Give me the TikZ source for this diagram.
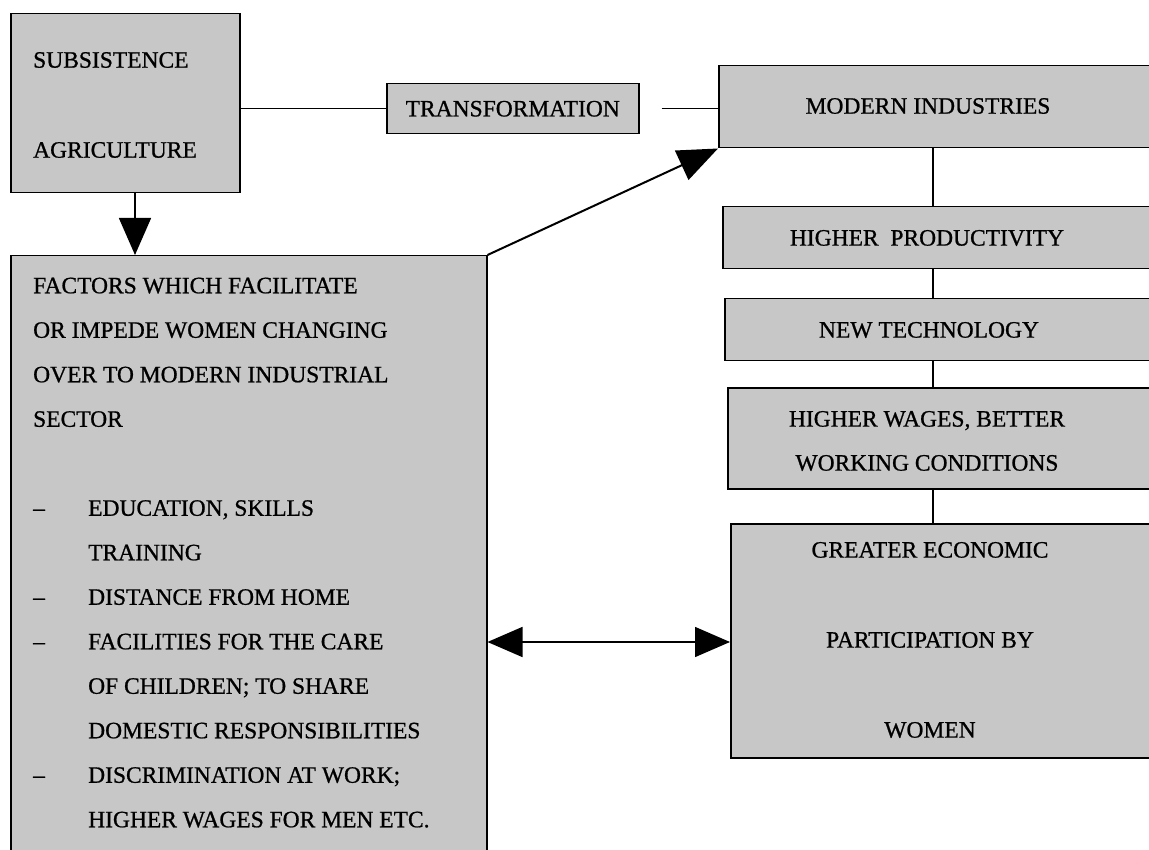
\documentclass[tikz,border=0pt]{standalone}
\usepackage{fontspec}
\setmainfont{Liberation Serif}[FakeBold=0.8]
\usetikzlibrary{arrows.meta}
\begin{document}
\begin{tikzpicture}[x=1pt,y=-1pt,
  box/.style={draw=black, line width=1.5pt, fill=black!22, inner sep=0pt, anchor=north west},
  txt/.style={inner sep=0pt, font=\fontsize{23.5}{28}\selectfont},
  link/.style={line width=1.5pt},
  bigtip/.style={-{Triangle[length=37pt,width=32pt]}}
]
\useasboundingbox (0,0) rectangle (1149,850);
\clip (0,0) rectangle (1149,850);

% boxes (the right-hand column runs off the page edge)
\node[box, minimum width=229, minimum height=179] (subs) at (10,13) {};
\node[box, minimum width=252, minimum height=50] (trans) at (386,83) {};
\node[box, minimum width=447, minimum height=82] (modern) at (718,65) {};
\node[box, minimum width=443, minimum height=62] (prod) at (722,206) {};
\node[box, minimum width=441, minimum height=62] (tech) at (724,298) {};
\node[box, minimum width=438, minimum height=101] (wages) at (727,387) {};
\node[box, minimum width=435, minimum height=234] (greater) at (730,523) {};
\node[box, minimum width=476, minimum height=615] (factors) at (10,255) {};

% texts
\node[txt, anchor=west, align=left, font=\fontsize{23.5}{90}\selectfont] (subsT) at (33,105)
  {SUBSISTENCE\\AGRICULTURE};
\node[txt] (transT) at (trans.center) {TRANSFORMATION};
\node[txt] (modernT) at (928,106) {MODERN INDUSTRIES};
\node[txt] (prodT) at (927,238) {HIGHER\ \ PRODUCTIVITY};
\node[txt] (techT) at (929,330) {NEW TECHNOLOGY};
\node[txt, align=center, font=\fontsize{23.5}{44}\selectfont] (wagesT) at (927,441)
  {HIGHER WAGES, BETTER\\WORKING CONDITIONS};
\node[txt, align=center, font=\fontsize{23.5}{90}\selectfont] (greaterT) at (930,640)
  {GREATER ECONOMIC\\PARTICIPATION BY\\WOMEN};
\node[txt, anchor=north west, align=left, font=\fontsize{23.5}{44.5}\selectfont] (factorsT) at (33,277.5)
  {FACTORS WHICH FACILITATE\\
   OR IMPEDE WOMEN CHANGING\\
   OVER TO MODERN INDUSTRIAL\\
   SECTOR\\[44.5pt]
   \makebox[55pt][l]{–}EDUCATION, SKILLS\\
   \hspace*{55pt}TRAINING\\
   \makebox[55pt][l]{–}DISTANCE FROM HOME\\
   \makebox[55pt][l]{–}FACILITIES FOR THE CARE\\
   \hspace*{55pt}OF CHILDREN; TO SHARE\\
   \hspace*{55pt}DOMESTIC RESPONSIBILITIES\\
   \makebox[55pt][l]{–}DISCRIMINATION AT WORK;\\
   \hspace*{55pt}HIGHER WAGES FOR MEN ETC.};

% connectors
\coordinate (drop) at (135,0);
\coordinate (spine) at (933,0);
\coordinate (across) at (0,642);
\coordinate (gapstart) at ([xshift=22pt]trans.east);

\draw[link] (trans.west) -- (trans.west -| subs.east);
\draw[link] (gapstart) -- (gapstart -| modern.west);
\draw[link, bigtip] (drop |- subs.south) -- (drop |- factors.north);
\draw[link, line width=2pt, -{Triangle[length=40pt,width=32pt]}] (factors.north east) -- (modern.south west);
\draw[link] (spine |- modern.south) -- (spine |- prod.north);
\draw[link] (spine |- prod.south) -- (spine |- tech.north);
\draw[link] (spine |- tech.south) -- (spine |- wages.north);
\draw[link] (spine |- wages.south) -- (spine |- greater.north);
\draw[link, {Triangle[length=35pt,width=30pt]}-{Triangle[length=35pt,width=30pt]}]
  (across -| factors.east) -- (across -| greater.west);
\end{tikzpicture}
\end{document}
